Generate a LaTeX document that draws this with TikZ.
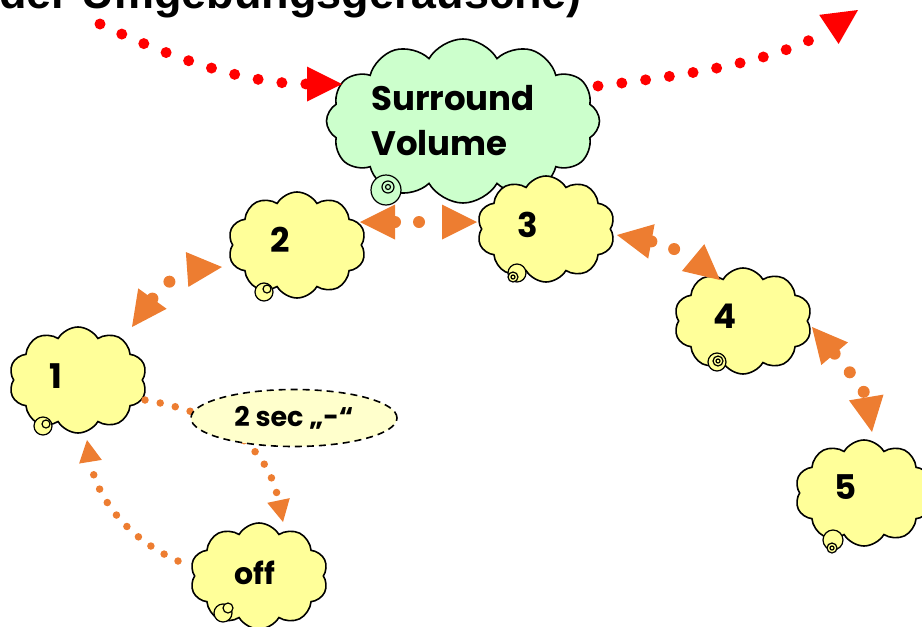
\documentclass[tikz,border=0pt]{standalone}
\usepackage{fontspec}
\setmainfont{Liberation Sans}
\newfontfamily\lblfont{Poppins}
\usetikzlibrary{shapes.symbols,shapes.geometric,arrows.meta,calc}
\definecolor{cyel}{HTML}{FFFF99}
\definecolor{cgrn}{HTML}{CCFFCC}
\definecolor{corg}{HTML}{ED7D31}
\definecolor{cred}{HTML}{FF0000}
\definecolor{cell}{HTML}{FFFFCC}
\begin{document}
\begin{tikzpicture}[x=1pt,y=-1pt,
  ycloud/.style={cloud, cloud puffs=10, cloud puff arc=120, aspect=1.3, draw=black, line width=1.6pt, fill=cyel, minimum width=138pt, minimum height=106pt, inner sep=0pt},
  gcloud/.style={ycloud, fill=cgrn, minimum width=273pt, minimum height=164pt, cloud puffs=12},
  lbl/.style={font=\lblfont\bfseries\fontsize{34}{45}\selectfont, inner sep=0pt},
  ybub/.style={draw=black, line width=1.2pt, fill=cyel},
  gbub/.style={draw=black, line width=1.2pt, fill=cgrn},
  bigdots/.style={draw=corg, line width=12pt, line cap=round, dash pattern=on 0pt off 24pt},
  smalldots/.style={draw=corg, line width=7.5pt, line cap=round, dash pattern=on 0pt off 15.5pt},
  reddots/.style={draw=cred, line width=11pt, line cap=round, dash pattern=on 0pt off 24pt},
  bighead/.tip={Triangle[length=35pt,width=35pt,line width=0pt]},
  smallhead/.tip={Triangle[length=22pt,width=23pt,line width=0pt]},
  redhead/.tip={Triangle[length=35pt,width=35pt,line width=0pt]}
]
\useasboundingbox (0,0) rectangle (922,627);
\clip (0,0) rectangle (922,627);

% top title (cut off at the top edge, as in the reference)
\node[font=\bfseries\fontsize{45}{54}\selectfont, anchor=base east, inner sep=0pt] (ttl) at (582,8) {der Umgebungsgeräusche)};

% green cloud
\node[gcloud] (g) at (463,121) {};
\draw[gbub] (386,190) circle (15);
\draw[gbub] (388,187) circle (6);
\draw[gbub] (388,187) circle (2.5);
\node[lbl, align=left, anchor=west] (tg) at (371,121) {Surround\\Volume};

% yellow clouds
\node[ycloud] (c1) at (78,380) {};
\node[ycloud] (c2) at (297,245) {};
\node[ycloud] (c3) at (546,229) {};
\node[ycloud] (c4) at (743,321) {};
\node[ycloud] (c5) at (864,493) {};
\node[ycloud] (coff) at (259,576) {};

\draw[ybub] (43,426) circle (9);  \draw[ybub] (46,424) circle (4);
\draw[ybub] (264,292) circle (9); \draw[ybub] (267,289) circle (4);
\draw[ybub] (517,273) circle (9); \draw[ybub] (513,277) circle (5); \draw[ybub] (513,277) circle (2);
\draw[ybub] (717,362) circle (9); \draw[ybub] (718,361) circle (5); \draw[ybub] (718,361) circle (2);
\draw[ybub] (833,540) circle (10); \draw[ybub] (832,548) circle (5); \draw[ybub] (832,548) circle (2);
\draw[ybub] (223,613) circle (9); \draw[ybub] (228,608) circle (5);

\node[lbl] (t1) at (56,376) {1};
\node[lbl] (t2) at (280,240) {2};
\node[lbl] (t3) at (528,225) {3};
\node[lbl] (t4) at (725,316) {4};
\node[lbl] (t5) at (846,487) {5};
\node[lbl, font=\lblfont\bfseries\fontsize{30}{36}\selectfont] (toff) at (255,573) {off};

% path from 1 to off (behind ellipse) and back
\draw[smalldots, -smallhead] ($(c1)+(67,20)$) .. controls (230,415) and (268,450) .. ($(coff)+(24,-54)$);
\draw[smalldots, -smallhead] ($(coff)+(-81,-15)$) .. controls (120,535) and (95,490) .. ($(c1)+(9,60)$);

% ellipse label
\node[ellipse, draw=black, line width=1.6pt, dash pattern=on 7pt off 5pt, fill=cell, minimum width=206pt, minimum height=57pt, inner sep=0pt, font=\lblfont\bfseries\fontsize{27}{32}\selectfont] (e) at (294,418) {2 sec „-“};

% orange double arrows
\draw[bigdots, bighead-bighead] ($(c1)+(54,-53)$) .. controls (155,295) and (180,270) .. ($(c2)+(-75,22)$);
\draw[bigdots, bighead-bighead] ($(c2)+(63,-23)$) -- ($(c3)+(-69,-7)$);
\draw[bigdots, bighead-bighead] ($(c3)+(71,6)$) .. controls (660,243) and (690,255) .. ($(c4)+(-23,-41)$);
\draw[bigdots, bighead-bighead] ($(c4)+(69,6)$) .. controls (840,360) and (865,390) .. ($(c5)+(8,-61)$);

% red arrows
\coordinate (rl) at (100,24);
\coordinate (rr) at (858,10);
\draw[reddots, -redhead] (rl) .. controls (180,62) and (250,84) .. ($(g)+(-121,-37)$);
\draw[reddots, -redhead] ($(g)+(135,-35)$) .. controls (680,76) and (780,62) .. (rr);
\end{tikzpicture}
\end{document}
